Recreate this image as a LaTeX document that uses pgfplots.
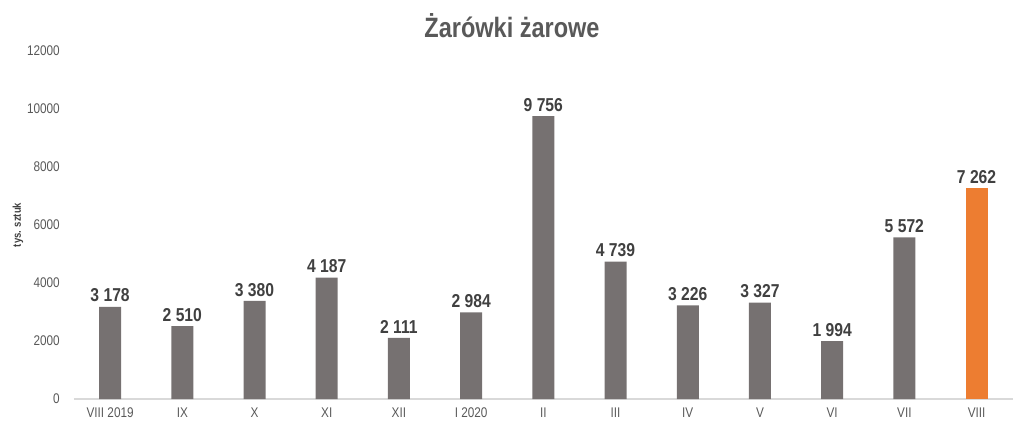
\documentclass[border=0pt]{standalone}
\usepackage{pgfplots}
\pgfplotsset{compat=1.18}
\usepackage{fontspec}
\setmainfont[FakeStretch=0.84]{Liberation Sans}
\definecolor{bargrey}{HTML}{767171}
\definecolor{barorange}{HTML}{ED7D31}
\definecolor{txtgrey}{HTML}{595959}
\definecolor{valtxt}{HTML}{404040}
\definecolor{axisgrey}{HTML}{D9D9D9}
\begin{document}
\begin{tikzpicture}
\useasboundingbox (0,0) rectangle (768pt,324pt);
\node[font=\bfseries\fontsize{21}{24}\selectfont, text=txtgrey] at (384pt,305pt) {Żarówki żarowe};
\begin{axis}[
    at={(55.5pt,24.75pt)}, anchor=south west,
    scale only axis,
    width=704pt, height=261pt,
    xmin=-0.5, xmax=12.5,
    ymin=0, ymax=12000,
    ytick={0,2000,4000,6000,8000,10000,12000},
    scaled y ticks=false,
    xtick={0,...,12},
    xticklabels={VIII 2019,IX,X,XI,XII,I 2020,II,III,IV,V,VI,VII,VIII},
    axis x line=bottom, axis y line=left,
    x axis line style={-, draw=axisgrey, line width=0.8pt},
    y axis line style={draw=none},
    tick style={draw=none},
    /pgf/number format/assume math mode=true,
    yticklabel style={/pgf/number format/1000 sep={}, font=\fontsize{10.5}{12}\selectfont, text=txtgrey, xshift=-5pt},
    xticklabel style={font=\fontsize{10.5}{12}\selectfont, text=txtgrey, yshift=1.5pt},
    ylabel={\bfseries tys. sztuk},
    ylabel style={at={(axis description cs:-0.0596,0.5)}, anchor=center, font=\fontsize{8.5}{10}\selectfont, text=valtxt},
    ybar, bar width=16.5pt, bar shift=0pt,
    nodes near coords,
    every node near coord/.append style={font=\bfseries\fontsize{14}{16}\selectfont, text=valtxt, /pgf/number format/1000 sep={\ }, /pgf/number format/assume math mode=true},
    clip=false,
]
\addplot[draw=none, fill=bargrey] coordinates {
    (0,3178) (1,2510) (2,3380) (3,4187) (4,2111) (5,2984) (6,9756)
    (7,4739) (8,3226) (9,3327) (10,1994) (11,5572)
};
\addplot[draw=none, fill=barorange] coordinates {(12,7262)};
\end{axis}
\end{tikzpicture}
\end{document}
